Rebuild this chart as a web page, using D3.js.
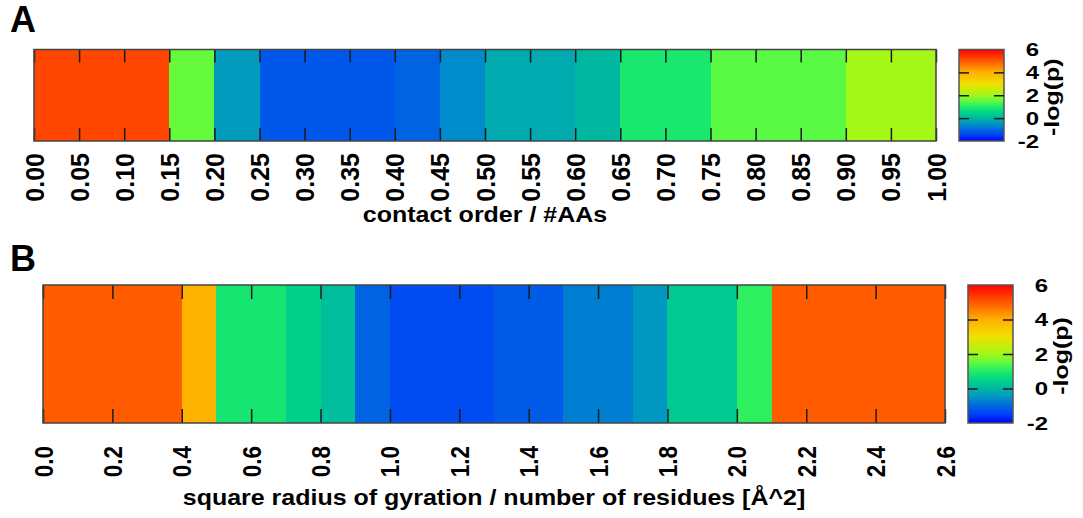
<!DOCTYPE html>
<html>
<head>
<meta charset="utf-8">
<script src="https://cdn.jsdelivr.net/npm/d3@7"></script>
<style>
    body { margin: 0; background: #fff; }
    svg { display: block; font-family: "Liberation Sans", Arial, sans-serif; font-weight: bold; }
</style>
</head>
<body>
<svg id="chart" width="1083" height="518"></svg>
<script>
// panel A: -log(p) for each contact order bin
const contactOrderEdges = [0.00, 0.05, 0.10, 0.15, 0.20, 0.25, 0.30, 0.35, 0.40, 0.45, 0.50,
    0.55, 0.60, 0.65, 0.70, 0.75, 0.80, 0.85, 0.90, 0.95, 1.00];
const contactOrderLogP = [5.2, 5.2, 5.2, 1.55, -0.4, -1.2, -1.2, -1.2, -1.05, -0.6,
    -0.2, -0.2, 0.0, 0.9, 0.9, 1.45, 1.45, 1.45, 2.05, 2.05];
const contactOrderTicks = [0.00, 0.05, 0.10, 0.15, 0.20, 0.25, 0.30, 0.35, 0.40, 0.45, 0.50,
    0.55, 0.60, 0.65, 0.70, 0.75, 0.80, 0.85, 0.90, 0.95, 1.00];
const contactOrderTickLabels = ["0.00", "0.05", "0.10", "0.15", "0.20", "0.25", "0.30", "0.35",
    "0.40", "0.45", "0.50", "0.55", "0.60", "0.65", "0.70", "0.75", "0.80", "0.85", "0.90",
    "0.95", "1.00"];

// panel B: -log(p) for each bin of square radius of gyration / residues
const gyrationEdges = [0.0, 0.1, 0.2, 0.3, 0.4, 0.5, 0.6, 0.7, 0.8, 0.9, 1.0, 1.1, 1.2, 1.3,
    1.4, 1.5, 1.6, 1.7, 1.8, 1.9, 2.0, 2.1, 2.2, 2.3, 2.4, 2.5, 2.6];
const gyrationLogP = [4.95, 4.95, 4.95, 4.95, 3.95, 0.85, 0.85, 0.45, 0.1, -1.05, -1.35, -1.35,
    -1.35, -1.15, -1.15, -0.75, -0.75, -0.45, 0.3, 0.3, 1.1, 4.95, 4.95, 4.95, 4.95, 4.95];
const gyrationTicks = [0.0, 0.2, 0.4, 0.6, 0.8, 1.0, 1.2, 1.4, 1.6, 1.8, 2.0, 2.2, 2.4, 2.6];
const gyrationTickLabels = ["0.0", "0.2", "0.4", "0.6", "0.8", "1.0", "1.2", "1.4", "1.6",
    "1.8", "2.0", "2.2", "2.4", "2.6"];

// colour bar (gnuplot-like palette)
const paletteValues = [-2, -1.5, -1, -0.5, 0, 0.5, 1, 1.5, 2, 3, 4, 5, 6];
const paletteColors = ["#0000ff", "#0040f8", "#0068e0", "#0094c4", "#00b8a0", "#00d488",
    "#20ec68", "#60fa40", "#a0f818", "#f0e000", "#ffb000", "#ff5800", "#ff0000"];
const colorbarTicks = [-2, 0, 2, 4, 6];
const colorbarInnerTicks = [0, 2, 4];
const colorbarTitle = "-log(p)";

const color = d3.scaleLinear().domain(paletteValues).range(paletteColors).clamp(true);
const svg = d3.select("#chart");
const defs = svg.append("defs");

function drawPanel(p) {
    let g = svg.append("g");

    let x = d3.scaleLinear()
        .domain([p.edges[0], p.edges[p.edges.length - 1]])
        .range([p.left, p.right]);

    // cells
    g.selectAll("rect.cell")
        .data(p.values)
        .join("rect")
        .attr("class", "cell")
        .attr("x", (d, i) => x(p.edges[i]))
        .attr("width", (d, i) => x(p.edges[i + 1]) - x(p.edges[i]))
        .attr("y", p.top)
        .attr("height", p.bottom - p.top)
        .attr("fill", d => color(d))
        .attr("shape-rendering", "crispEdges");

    // inner ticks, top and bottom
    let bottomAxis = d3.axisBottom(x)
        .tickValues(p.ticks)
        .tickSizeInner(-p.tickLen)
        .tickSizeOuter(0)
        .tickFormat((d, i) => p.tickLabels[i]);
    let topAxis = d3.axisTop(x)
        .tickValues(p.ticks)
        .tickSizeInner(-p.tickLen)
        .tickSizeOuter(0)
        .tickFormat("");

    g.append("g").attr("transform", "translate(0," + p.top + ")").call(topAxis);
    let xb = g.append("g").attr("transform", "translate(0," + p.bottom + ")").call(bottomAxis);
    g.selectAll(".domain").remove();
    g.selectAll(".tick line").attr("stroke", "#1a1a1a").attr("stroke-width", 1.5);

    xb.selectAll("text")
        .attr("x", 0).attr("y", 0).attr("dy", "0.36em")
        .attr("text-anchor", "end")
        .attr("fill", "#000")
        .style("font-size", "25px")
        .style("font-family", "'Liberation Sans', Arial, sans-serif")
        .attr("transform", "translate(0," + p.labelGap + ") rotate(-90) scale(" + p.tickSquish + ",1)");

    // frame
    g.append("rect")
        .attr("x", p.left).attr("y", p.top)
        .attr("width", p.right - p.left).attr("height", p.bottom - p.top)
        .attr("fill", "none").attr("stroke", "#444").attr("stroke-width", 1.5);

    // x title
    g.append("text")
        .attr("text-anchor", "middle")
        .attr("transform", "translate(" + ((p.left + p.right) / 2) + "," + p.titleY + ") scale(1,0.86)")
        .style("font-size", "25px")
        .text(p.title);

    // panel letter
    g.append("text")
        .attr("x", 10).attr("y", p.letterY)
        .style("font-size", "36px")
        .text(p.letter);

    // colour bar
    let cb = d3.scaleLinear().domain([paletteValues[0], paletteValues[paletteValues.length - 1]])
        .range([p.bottom, p.top]);
    let grad = defs.append("linearGradient")
        .attr("id", "grad" + p.letter)
        .attr("x1", 0).attr("y1", 1).attr("x2", 0).attr("y2", 0);
    grad.selectAll("stop")
        .data(paletteValues)
        .join("stop")
        .attr("offset", d => (d - paletteValues[0]) / (paletteValues[paletteValues.length - 1] - paletteValues[0]))
        .attr("stop-color", d => color(d));

    g.append("rect")
        .attr("x", p.cbLeft).attr("y", p.top)
        .attr("width", p.cbRight - p.cbLeft).attr("height", p.bottom - p.top)
        .attr("fill", "url(#grad" + p.letter + ")")
        .attr("stroke", "#555").attr("stroke-width", 1.5);

    let cbLeftAxis = d3.axisRight(cb).tickValues(colorbarInnerTicks).tickSizeInner(10).tickSizeOuter(0).tickFormat("");
    let cbRightAxis = d3.axisLeft(cb).tickValues(colorbarInnerTicks).tickSizeInner(10).tickSizeOuter(0).tickFormat("");
    let cbl = g.append("g").attr("transform", "translate(" + p.cbLeft + ",0)").call(cbLeftAxis);
    let cbr = g.append("g").attr("transform", "translate(" + p.cbRight + ",0)").call(cbRightAxis);
    cbl.select(".domain").remove();
    cbr.select(".domain").remove();
    g.selectAll(".tick line").attr("stroke", "#1a1a1a").attr("stroke-width", 1.5);

    g.selectAll("text.cblabel")
        .data(colorbarTicks)
        .join("text")
        .attr("class", "cblabel")
        .attr("text-anchor", "end")
        .attr("dy", "0.36em")
        .attr("transform", d => "translate(" + (p.cbRight + 35) + "," + cb(d) + ") scale(1,0.8)")
        .style("font-size", "24px")
        .text(d => d);

    g.append("text")
        .attr("text-anchor", "middle")
        .attr("dy", "0.3em")
        .attr("transform", "translate(" + (p.cbRight + 49) + "," + ((p.top + p.bottom) / 2 + 2) + ") rotate(-90) scale(1,0.8)")
        .style("font-size", "25px")
        .text(colorbarTitle);
}

drawPanel({
    letter: "A", letterY: 32,
    edges: contactOrderEdges, values: contactOrderLogP,
    ticks: contactOrderTicks, tickLabels: contactOrderTickLabels,
    left: 34, right: 936, top: 49.5, bottom: 141,
    tickLen: 13, labelGap: 12, tickSquish: 1,
    title: "contact order / #AAs", titleY: 222,
    cbLeft: 959, cbRight: 1004
});

drawPanel({
    letter: "B", letterY: 271,
    edges: gyrationEdges, values: gyrationLogP,
    ticks: gyrationTicks, tickLabels: gyrationTickLabels,
    left: 43, right: 945, top: 285, bottom: 423,
    tickLen: 14, labelGap: 23, tickSquish: 0.9,
    title: "square radius of gyration / number of residues [Å^2]", titleY: 505,
    cbLeft: 968, cbRight: 1013
});
</script>
</body>
</html>
